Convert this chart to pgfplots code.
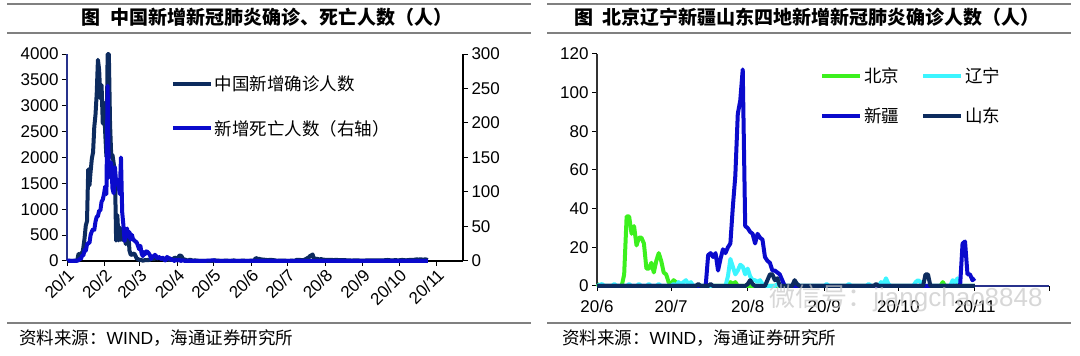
\documentclass[border=0pt]{standalone}
\usepackage{pgfplots}
\pgfplotsset{compat=1.18}
\usepackage{fontspec}
\setmainfont{Liberation Sans}
\newfontfamily\cjk{Noto Sans CJK SC}
\definecolor{navy}{HTML}{0D2B5E}
\definecolor{dblue}{HTML}{0A0ACC}
\definecolor{bjgreen}{HTML}{3CF01E}
\definecolor{lncyan}{HTML}{3CF5FF}
\definecolor{rulegray}{HTML}{808080}
\definecolor{axisblue}{HTML}{28328C}
\pgfplotsset{
  base/.style={
    scale only axis, anchor=south west,
    tick align=outside,
    major tick length=5pt,
    tick style={line width=1pt, black},
    axis line style={line width=1.2pt},
    ticklabel style={font=\fontsize{17}{17}\selectfont},
    /pgf/number format/assume math mode=true,
    /pgf/number format/1000 sep={},
    legend cell align=left,
    legend image code/.code={\draw[#1, line width=4pt] (0pt,0pt) -- (38pt,0pt);},
  },
}
\begin{document}
\begin{tikzpicture}[x=1pt,y=1pt]
\path[use as bounding box] (0,0) rectangle (1080,356);
% rules
\draw[rulegray, line width=1.5pt] (7,352) -- (531,352);
\draw[rulegray, line width=1.5pt] (7,323) -- (531,323);
\draw[rulegray, line width=1.5pt] (7,33) -- (531,33);
\draw[rulegray, line width=1.5pt] (547,352) -- (1071,352);
\draw[rulegray, line width=1.5pt] (547,323) -- (1071,323);
\draw[rulegray, line width=1.5pt] (547,33) -- (1071,33);
% titles
\node[font=\fontsize{19}{19}\selectfont\cjk\bfseries] at (267,339) {图\hspace{0.5em}中国新增新冠肺炎确诊、死亡人数（人）};
\node[font=\fontsize{19}{19}\selectfont\cjk\bfseries] at (807,339) {图\hspace{0.5em}北京辽宁新疆山东四地新增新冠肺炎确诊人数（人）};
% sources
\node[anchor=west, inner sep=0pt, font=\fontsize{17.5}{17.5}\selectfont] at (19,18) {{\cjk 资料来源：}WIND{\cjk ，海通证券研究所}};
\node[anchor=west, inner sep=0pt, font=\fontsize{17.5}{17.5}\selectfont] at (562,18) {{\cjk 资料来源：}WIND{\cjk ，海通证券研究所}};

% ---------- left chart: confirmed (left axis)
\begin{axis}[base,
  at={(67pt,95pt)}, width=396pt, height=207pt,
  xmin=8.5, xmax=335, ymin=0, ymax=4000,
  axis y line*=left, axis x line*=bottom,
  y axis line style={axisblue},
  ytick={0,500,...,4000},
  xtick={8.5,39.5,68.5,99.5,129.5,160.5,190.5,221.5,252.5,282.5,313.5},
  xticklabels={20/1,20/2,20/3,20/4,20/5,20/6,20/7,20/8,20/9,20/10,20/11},
  xticklabel style={rotate=45, anchor=east, yshift=-7pt, xshift=2pt},
  clip=false,
  legend style={at={(0.262,0.905)}, anchor=north west, draw=none, fill=none,
    font=\fontsize{17.5}{19}\selectfont\cjk, row sep=24pt, inner sep=0pt},
]
\addplot[navy, line width=4pt, line join=round, y filter/.expression={min(y,4000)}] coordinates {
(9,0)(10,0)(11,0)(12,0)(13,0)(14,0)(15,0)(16,4)(17,17)(18,136)(19,77)(20,149)(21,131)(22,259)(23,444)(24,688)(25,769)(26,1771)(27,1459)(28,1737)(29,1982)(30,2102)(31,2590)(32,2829)(33,3235)(34,3887)(35,3694)(36,3143)(37,3399)(38,2656)(39,3062)(40,2478)(41,2015)(42,15152)(43,5090)(44,2641)(45,2009)(46,2048)(47,1886)(48,1749)(49,394)(50,889)(51,397)(52,648)(53,409)(54,508)(55,406)(56,433)(57,327)(58,427)(59,573)(60,202)(61,125)(62,119)(63,139)(64,143)(65,99)(66,44)(67,40)(68,19)(69,24)(70,15)(71,8)(72,11)(73,20)(74,16)(75,21)(76,13)(77,34)(78,39)(79,41)(80,46)(81,39)(82,78)(83,47)(84,67)(85,55)(86,54)(87,45)(88,31)(89,48)(90,36)(91,35)(92,31)(93,19)(94,30)(95,39)(96,32)(97,62)(98,63)(99,42)(100,46)(101,99)(102,108)(103,89)(104,46)(105,26)(106,27)(107,16)(108,12)(109,11)(110,30)(111,10)(112,11)(113,6)(114,12)(116,6)(118,3)(120,2)(122,1)(124,2)(126,1)(128,1)(130,14)(132,7)(134,5)(136,2)(138,5)(140,8)(142,3)(144,4)(146,11)(148,2)(150,3)(152,5)(154,6)(156,4)(158,3)(160,6)(163,11)(164,57)(165,49)(166,40)(167,44)(168,28)(169,32)(170,25)(171,26)(172,22)(174,18)(176,21)(178,19)(180,12)(182,4)(184,7)(186,8)(188,7)(190,3)(192,4)(194,7)(196,3)(198,22)(200,24)(202,14)(204,21)(206,46)(207,61)(208,68)(209,101)(210,105)(211,127)(212,45)(213,49)(214,36)(215,43)(216,27)(218,37)(220,25)(222,23)(225,22)(228,19)(231,20)(234,17)(237,15)(240,14)(243,9)(246,11)(249,10)(252,8)(255,10)(258,12)(261,14)(264,10)(267,11)(270,14)(273,20)(276,11)(279,16)(282,13)(285,21)(288,13)(291,21)(294,20)(297,33)(299,22)(300,42)(301,20)(302,25)(303,28)(304,33)(305,25)(306,18)
};
\addlegendentry{中国新增确诊人数}
\addlegendimage{dblue, line width=4pt}
\addlegendentry{新增死亡人数（右轴）}
\end{axis}
% ---------- left chart: deaths (right axis)
\begin{axis}[base,
  at={(67pt,95pt)}, width=396pt, height=207pt,
  xmin=8.5, xmax=335, ymin=0, ymax=300,
  axis y line*=right, axis x line=none,
  ytick={0,50,...,300},
  clip=false,
]
\addplot[dblue, line width=4pt, line join=round] coordinates {
(9,0)(10,1)(11,0)(14,0)(15,1)(16,0)(18,1)(19,3)(20,3)(21,8)(22,8)(23,16)(24,15)(25,24)(26,26)(27,26)(28,38)(29,43)(30,46)(31,45)(32,57)(33,64)(34,65)(35,73)(36,73)(37,86)(38,89)(39,97)(40,108)(41,97)(42,254)(43,121)(44,143)(45,142)(46,105)(47,98)(48,136)(49,114)(50,118)(51,109)(52,97)(53,150)(54,71)(55,52)(56,29)(57,44)(58,47)(59,35)(60,42)(61,31)(62,38)(63,31)(64,30)(65,28)(66,27)(67,22)(68,17)(69,22)(70,11)(71,7)(72,13)(73,10)(74,14)(75,13)(76,11)(77,8)(78,3)(79,7)(80,6)(81,9)(82,7)(83,4)(84,6)(85,5)(86,3)(87,5)(88,4)(89,1)(90,1)(91,6)(92,4)(93,4)(94,3)(95,1)(96,2)(97,0)(98,2)(99,1)(100,1)(101,2)(102,0)(104,1)(106,0)(110,0)(120,0)(130,1)(131,0)(150,0)(200,0)(250,0)(306,0)
};
\end{axis}

% ---------- right chart
\begin{axis}[base,
  at={(597pt,70pt)}, width=452pt, height=232pt,
  xmin=0, xmax=183, ymin=0, ymax=120,
  axis y line*=left, axis x line*=bottom,
  y axis line style={black!80},
  x axis line style={axisblue},
  ytick={0,20,...,120},
  xtick={0,30,61,92,122,153,183},
  xticklabels={20/6,20/7,20/8,20/9,20/10,20/11,},
  xticklabel style={yshift=-6pt},
  clip=false,
  legend columns=2,
  legend style={at={(0.493,0.95)}, anchor=north west, draw=none, fill=none,
    font=\fontsize{17.5}{19}\selectfont\cjk, row sep=20pt, inner sep=0pt,
    /tikz/every even column/.append style={column sep=20pt}},
]
\addplot[bjgreen, line width=4pt, line join=round] coordinates {
(0,1)(1,0)(10,0)(11,6)(12,36)(13,36)(14,27)(15,31)(16,21)(17,25)(18,25)(19,22)(20,9)(21,9)(22,12)(23,7)(24,13)(25,17)(26,13)(27,7)(28,6)(29,2)(30,1)(31,3)(32,2)(33,1)(34,1)(35,0)(53,0)(54,2)(55,1)(56,2)(57,0)(139,0)(140,2)(141,0)(144,0)(145,2)(146,3)(147,0)(153,0)
};
\addlegendentry{北京}
\addplot[lncyan, line width=4pt, line join=round] coordinates {
(0,0)(2,1)(3,0)(6,0)(7,1)(8,0)(12,0)(13,1)(14,0)(16,0)(17,1)(18,0)(20,0)(21,1)(22,0)(24,0)(25,1)(26,0)(30,0)(31,1)(32,0)(33,2)(34,1)(35,2)(36,3)(37,1)(38,2)(39,0)(52,0)(53,5)(54,14)(55,10)(56,6)(57,8)(58,11)(59,10)(60,6)(61,9)(62,5)(63,3)(64,3)(65,2)(66,3)(67,1)(68,0)(72,0)(73,1)(74,0)(80,0)(81,1)(82,0)(92,0)(93,1)(94,0)(101,0)(102,1)(103,0)(109,0)(110,1)(111,0)(114,0)(115,2)(116,1)(117,4)(118,1)(119,0)(128,0)(129,2)(130,3)(131,2)(132,0)(143,0)(144,3)(145,2)(146,4)(147,0)(153,0)
};
\addlegendentry{辽宁}
\addplot[dblue, line width=4pt, line join=round] coordinates {
(0,0)(44,0)(45,16)(46,17)(47,15)(48,17)(49,8)(50,14)(51,19)(52,17)(53,20)(54,22)(55,41)(56,57)(57,89)(58,96)(59,112)(60,31)(61,30)(62,28)(63,27)(64,22)(65,27)(66,25)(67,24)(68,15)(69,13)(70,12)(71,8)(72,8)(73,7)(74,6)(75,3)(76,0)(147,0)(148,22)(149,23)(150,6)(151,6)(152,3)(153,4)
};
\addlegendentry{新疆}
\addplot[navy, line width=4pt, line join=round] coordinates {
(0,0)(40,0)(41,1)(42,0)(45,0)(46,1)(47,0)(60,0)(61,1)(62,3)(63,1)(64,0)(68,0)(69,3)(70,6)(71,6)(72,3)(73,4)(74,0)(79,0)(80,3)(81,1)(82,0)(112,0)(113,1)(114,0)(132,0)(133,6)(134,6)(135,0)(153,0)
};
\addlegendentry{山东}
\end{axis}
% watermark
\node[font=\fontsize{26}{26}\selectfont, text=gray!45, opacity=0.7] at (906,58) {{\cjk 微信号：}jiangchao8848};
\end{tikzpicture}
\end{document}
